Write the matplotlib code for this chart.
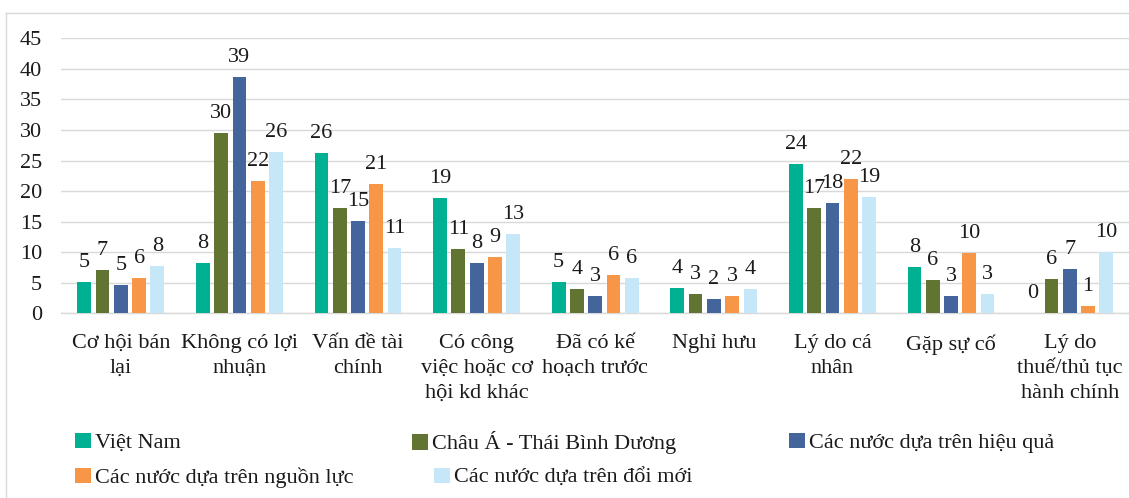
import matplotlib
matplotlib.use("Agg")
import matplotlib.pyplot as plt
from matplotlib.patches import Patch
from matplotlib.lines import Line2D
import numpy as np

plt.rcParams['font.family'] = ['Liberation Serif', 'DejaVu Serif']

categories = [
    "Cơ hội bán\nlại",
    "Không có lợi\nnhuận",
    "Vấn đề tài\nchính",
    "Có công\nviệc hoặc cơ\nhội kd khác",
    "Đã có kế\nhoạch trước",
    "Nghỉ hưu",
    "Lý do cá\nnhân",
    "Gặp sự cố",
    "Lý do\nthuế/thủ tục\nhành chính",
]

series_names = [
    "Việt Nam",
    "Châu Á - Thái Bình Dương",
    "Các nước dựa trên hiệu quả",
    "Các nước dựa trên nguồn lực",
    "Các nước dựa trên đổi mới",
]

viet_nam = [5.1, 8.2, 26.2, 18.8, 5.2, 4.1, 24.4, 7.6, 0.0]
chau_a_tbd = [7.1, 29.5, 17.2, 10.6, 4.0, 3.2, 17.2, 5.5, 5.6]
hieu_qua = [4.6, 38.7, 15.1, 8.2, 2.8, 2.4, 18.0, 2.9, 7.2]
nguon_luc = [5.7, 21.6, 21.1, 9.2, 6.2, 2.8, 22.0, 9.9, 1.2]
doi_moi = [7.8, 26.4, 10.7, 13.0, 5.8, 3.9, 19.0, 3.2, 10.0]

series_values = [viet_nam, chau_a_tbd, hieu_qua, nguon_luc, doi_moi]
colors = ["#00B092", "#627431", "#44649C", "#F79646", "#C6E7F8"]

y_ticks = list(range(0, 50, 5))

W, H = 1129, 498
fig = plt.figure(figsize=(W / 100, H / 100), dpi=100)

# chart frame
fig.add_artist(Line2D([6 / W, 6 / W], [0, 1 - 13 / H], color="#D9D9D9", lw=1.0,
                      transform=fig.transFigure))
fig.add_artist(Line2D([6 / W, 1], [1 - 13 / H, 1 - 13 / H], color="#D9D9D9", lw=1.0,
                      transform=fig.transFigure))

left, right = 61.5 / W, 1.0
bottom, top = 1 - 313.3 / H, 1 - 38.3 / H
ax = fig.add_axes([left, bottom, right - left, top - bottom])

x = np.arange(len(categories))
step = 0.154
width = 0.116
text_color = "#1a1a1a"
fs = 16

for i, (vals, col) in enumerate(zip(series_values, colors)):
    pos = x + (i - 2) * step
    bars = ax.bar(pos, vals, width=width, color=col, zorder=3)
    for b, v in zip(bars, vals):
        ax.annotate(f"{v:.0f}", (b.get_x() + b.get_width() / 2, v),
                    xytext=(0, 10.8), textcoords="offset points",
                    ha="center", va="baseline", fontsize=fs, color=text_color,
                    zorder=4)

ax.set_xlim(-0.5, len(categories) - 0.5)
ax.set_ylim(0, 45)
ax.set_yticks(y_ticks)
ax.set_yticklabels([str(t) for t in y_ticks], fontsize=fs, color=text_color)
ax.set_xticks(x)
ax.set_xticklabels(categories, fontsize=fs, color=text_color, linespacing=1.42)
ax.tick_params(axis="both", length=0)
ax.tick_params(axis="y", pad=14)
ax.tick_params(axis="x", pad=15)

ax.grid(axis="y", color="#D9D9D9", lw=1.0, zorder=0)
for s in ["top", "right", "left"]:
    ax.spines[s].set_visible(False)
ax.spines["bottom"].set_color("#D9D9D9")
ax.spines["bottom"].set_linewidth(1.0)
ax.set_facecolor("none")

# legend entries placed in two rows
legend_slots = [
    (0, 75, 443), (1, 412, 443), (2, 789, 443),
    (3, 75, 478), (4, 434, 478),
]
for idx, px, py in legend_slots:
    h = Patch(facecolor=colors[idx], edgecolor="none")
    leg = fig.legend(handles=[h], labels=[series_names[idx]],
                     loc="center left", bbox_to_anchor=(px / W, 1 - py / H),
                     frameon=False, fontsize=fs, handlelength=0.7,
                     handleheight=0.7, handletextpad=0.2, borderpad=0,
                     borderaxespad=0, labelcolor=text_color)

fig.savefig("out.png", dpi=100)
